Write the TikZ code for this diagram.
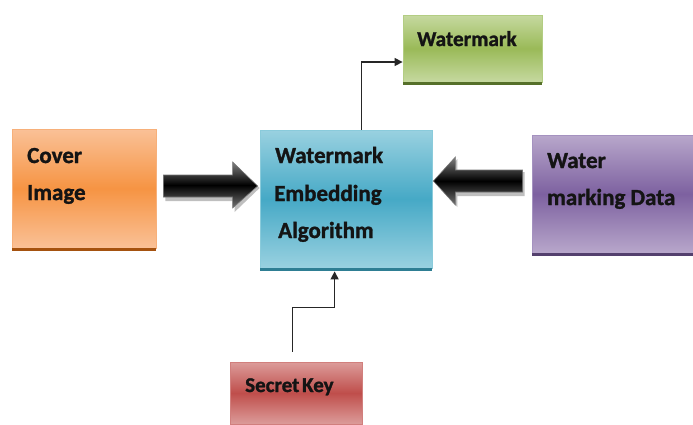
\documentclass[tikz,border=0pt]{standalone}
\usepackage{fontspec}
\setmainfont{Carlito}[BoldFeatures={FakeBold=1.3}]
\usetikzlibrary{calc,arrows.meta}

\definecolor{orTop}{HTML}{FAC197}
\definecolor{orMid}{HTML}{F69443}
\definecolor{orEdge}{HTML}{F7B07A}
\definecolor{orShadow}{HTML}{A5520F}
\definecolor{blTop}{HTML}{99D1E0}
\definecolor{blMid}{HTML}{46A9C6}
\definecolor{blEdge}{HTML}{8ACBDB}
\definecolor{blShadow}{HTML}{2E7E93}
\definecolor{puTop}{HTML}{B8A7CB}
\definecolor{puMid}{HTML}{7D61A0}
\definecolor{puEdge}{HTML}{A592C0}
\definecolor{puShadow}{HTML}{54406E}
\definecolor{grTop}{HTML}{C6D9A0}
\definecolor{grMid}{HTML}{9ABA58}
\definecolor{grEdge}{HTML}{B3CD83}
\definecolor{grShadow}{HTML}{56702A}
\definecolor{rdTop}{HTML}{DC9C9A}
\definecolor{rdMid}{HTML}{BF4E4B}
\definecolor{rdEdge}{HTML}{D17F7D}

\tikzset{
  box/.style={rectangle, inner sep=0pt, line width=0.8pt},
  orangebox/.style={box, draw=orEdge, top color=orTop, bottom color=orTop, middle color=orMid},
  bluebox/.style={box, draw=blEdge, top color=blTop, bottom color=blTop, middle color=blMid},
  purplebox/.style={box, draw=puEdge, top color=puTop, bottom color=puTop, middle color=puMid},
  greenbox/.style={box, draw=grEdge, top color=grTop, bottom color=grTop, middle color=grMid},
  redbox/.style={box, draw=rdEdge, top color=rdTop, bottom color=rdTop, middle color=rdMid},
  lbl/.style={anchor=base west, inner sep=0pt, font=\bfseries\fontsize{23}{27}\selectfont, text=black!92},
  smalllbl/.style={lbl, font=\bfseries\fontsize{21.2}{25}\selectfont},
  keylbl/.style={lbl, font=\bfseries\fontsize{21}{25}\selectfont},
  link/.style={draw=black!85, line width=1.4pt, -{Triangle[length=8pt,width=8pt]}},
  bigarrow/.style={draw=black!55, line width=0.6pt, top color=black!50, bottom color=black!55, middle color=black},
  arrowshadow/.style={fill=black, opacity=0.25}
}

\begin{document}
\begin{tikzpicture}[x=1pt,y=-1pt]
\useasboundingbox[fill=white] (0,0) rectangle (693,424);

% boxes
\node[orangebox, minimum width=144pt, minimum height=119pt] (cover) at (84,188.5) {};
\node[bluebox, minimum width=172pt, minimum height=138pt] (algo) at (346,199) {};
\node[purplebox, minimum width=161pt, minimum height=118pt] (data) at (612.5,194) {};
\node[greenbox, minimum width=139pt, minimum height=67pt] (wm) at (472.5,48.5) {};
\node[redbox, minimum width=132pt, minimum height=62pt] (key) at (296,393) {};

% dark bottom edges
\fill[orShadow] (cover.south west) rectangle ($(cover.south east)+(0,3)$);
\fill[blShadow] (algo.south west) rectangle ($(algo.south east)+(0,3)$);
\fill[puShadow] (data.south west) rectangle ($(data.south east)+(0,3)$);
\fill[grShadow] (wm.south west) rectangle ($(wm.south east)+(0,3)$);

% labels
\node[lbl] (coverA) at (27,163) {Cover};
\node[lbl] (coverB) at (27,200) {Image};
\node[lbl] (algoA) at (275,163) {Watermark};
\node[lbl] (algoB) at (274,201) {Embedding};
\node[lbl] (algoC) at (278,238) {Algorithm};
\node[lbl] (dataA) at (547,168) {Water};
\node[lbl] (dataB) at (547,205) {marking Data};
\node[smalllbl] (wmA) at (417,46) {Watermark};
\node[keylbl] (keyA) at (245,392) {Secret\kern-2pt\ Key};

% thick arrow: cover image -> algorithm
\coordinate (la) at ($(cover.east)+(7,-2.5)$);
\coordinate (lt) at ($(algo.west |- la)+(-2,0)$);
\path[arrowshadow] ($(la)+(2,-9)$) -- ($(lt)+(-23,-9)$) -- ($(lt)+(-23,-22)$) -- ($(lt)+(2,2)$)
   -- ($(lt)+(-23,26)$) -- ($(lt)+(-23,15)$) -- ($(la)+(2,15)$) -- cycle;
\path[bigarrow] (la) ++(0,-11) -- ($(lt)+(-25,-11)$) -- ($(lt)+(-25,-24)$) -- (lt)
   -- ($(lt)+(-25,22)$) -- ($(lt)+(-25,11)$) -- ($(la)+(0,11)$) -- cycle;

% thick arrow: watermarking data -> algorithm
\coordinate (rs) at ($(data.west)+(-9,-13)$);
\coordinate (rt) at ($(algo.east |- rs)+(1,0)$);
\path[arrowshadow] ($(rs)+(2,-9)$) -- ($(rt)+(24,-9)$) -- ($(rt)+(24,-22)$) -- ($(rt)+(2,2)$)
   -- ($(rt)+(24,26)$) -- ($(rt)+(24,15)$) -- ($(rs)+(2,15)$) -- cycle;
\path[bigarrow] (rs) ++(0,-11) -- ($(rt)+(22,-11)$) -- ($(rt)+(22,-24)$) -- (rt)
   -- ($(rt)+(22,24)$) -- ($(rt)+(22,11)$) -- ($(rs)+(0,11)$) -- cycle;

% algorithm -> watermark
\coordinate (upA) at ($(algo.north west)+(102,0)$);
\coordinate (upB) at ($(wm.west)+(0,13.5)$);
\draw[link] (upA) |- (upB);

% secret key -> algorithm
\coordinate (kA) at ($(key.north west)+(63,-10)$);
\coordinate (kB) at ($(algo.south west)+(75,3)$);
\draw[link] (kA) -- ($(kA)+(0,-44)$) -| (kB);
\end{tikzpicture}
\end{document}
